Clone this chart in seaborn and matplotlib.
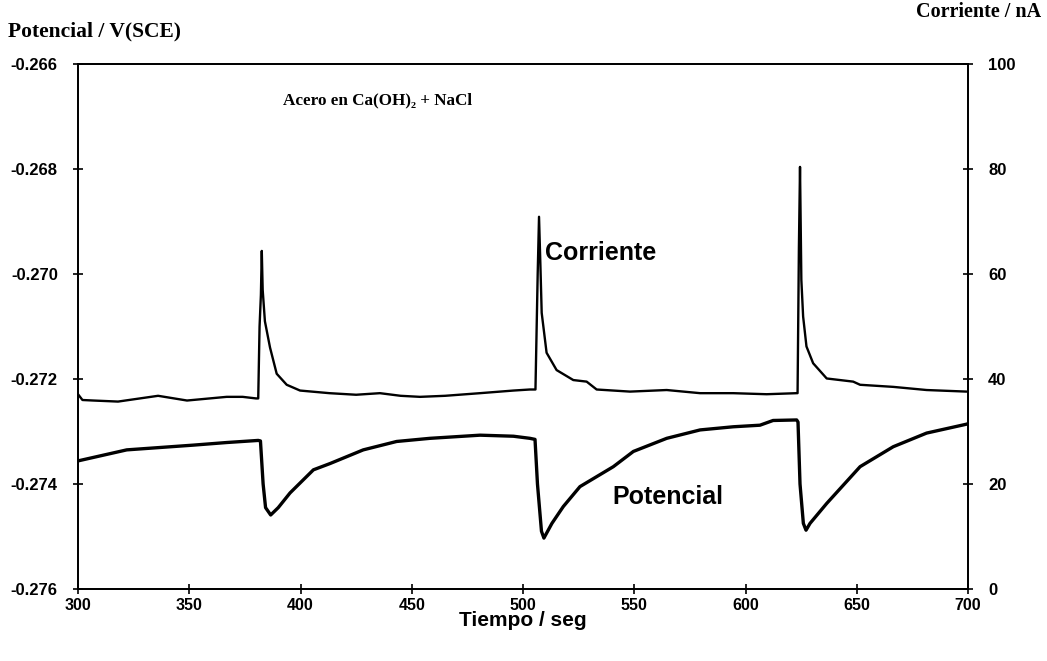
import matplotlib
matplotlib.use("Agg")
import matplotlib.pyplot as plt
import seaborn as sns
import numpy as np
from matplotlib.ticker import FixedLocator, FormatStrFormatter

# ---------------- data ----------------
potential_t = [300, 321.9, 351.7, 366.8, 381.0, 382.0, 383.2, 384.3, 386.6, 390.0, 395.3,
               405.8, 413.3, 428.2, 443.2, 458.2, 480.7, 495.7, 503.1, 505.4, 506.5,
               508.3, 509.4, 513.0, 518.1, 525.6, 540.6, 549.6, 564.6, 579.6, 594.5,
               606.5, 612.4, 623.0, 623.6, 624.5, 626.0, 627.2, 629.0, 636.5, 651.5,
               666.4, 681.4, 699.4, 700]
potential_v = [-0.27356, -0.27335, -0.27326, -0.27321, -0.27317, -0.27318, -0.27400, -0.27445,
               -0.27459, -0.27445, -0.27417, -0.27373, -0.27361, -0.27335, -0.27319, -0.27313,
               -0.27307, -0.27309, -0.27313, -0.27315, -0.27400, -0.27490, -0.27503, -0.27475,
               -0.27443, -0.27405, -0.27367, -0.27338, -0.27313, -0.27297, -0.27291, -0.27288,
               -0.27279, -0.27278, -0.27282, -0.27400, -0.27475, -0.27488, -0.27475, -0.27437,
               -0.27367, -0.27329, -0.27303, -0.27286, -0.27285]

current_t = [300, 302, 306.9, 318, 336, 349, 366.8, 374, 380, 381.0, 381.6, 382.2, 382.6,
             383.0, 384.0, 386.3, 389.3, 393.8, 399.8, 413, 425, 435.7, 445, 453.7, 465,
             480.7, 495.7, 503.1, 505.6, 506.6, 507.2, 507.8, 508.4, 510.6, 515.1, 522.6,
             528.6, 533.1, 548.1, 564.6, 579.6, 594.5, 609.5, 623.0, 623.4, 624.0, 624.5,
             625.1, 625.9, 627.4, 630.4, 636.5, 648.4, 651.5, 666.4, 681.4, 699.4]
current_i = [37.1, 36.0, 35.9, 35.7, 36.8, 35.9, 36.6, 36.6, 36.3, 36.3, 50.0, 56.0, 64.4,
             57.0, 51.0, 46.0, 41.0, 38.9, 37.8, 37.3, 37.0, 37.3, 36.8, 36.6, 36.8,
             37.3, 37.8, 38.0, 38.0, 60.0, 70.9, 62.0, 52.6, 45.0, 41.7, 39.8,
             39.5, 38.0, 37.6, 37.9, 37.3, 37.3, 37.1, 37.3, 37.3, 65.0, 80.4,
             58.9, 51.9, 46.2, 43.0, 40.1, 39.5, 38.9, 38.5, 37.9, 37.6]

x_ticks = [300, 350, 400, 450, 500, 550, 600, 650, 700]
left_ticks = [-0.276, -0.274, -0.272, -0.270, -0.268, -0.266]
right_ticks = [0, 20, 40, 60, 80, 100]

# ---------------- style ----------------
sns.set_style("ticks")
plt.rcParams['font.family'] = ['Liberation Sans', 'DejaVu Sans']
plt.rcParams['axes.unicode_minus'] = False
plt.rcParams['text.color'] = 'black'
plt.rcParams['axes.labelcolor'] = 'black'
plt.rcParams['xtick.color'] = 'black'
plt.rcParams['ytick.color'] = 'black'

fig = plt.figure(figsize=(10.47, 6.61), dpi=100)
ax = fig.add_axes([78 / 1047, 1 - 589 / 661, 890 / 1047, 525 / 661])
ax2 = ax.twinx()

sns.lineplot(x=potential_t, y=potential_v, ax=ax, color='black', linewidth=2.4,
             estimator=None, sort=False)
sns.lineplot(x=current_t, y=current_i, ax=ax2, color='black', linewidth=1.7,
             estimator=None, sort=False)

ax.set_xlim(300, 700)
ax.set_ylim(-0.276, -0.266)
ax2.set_ylim(0, 100)

ax.xaxis.set_major_locator(FixedLocator(x_ticks))
ax.yaxis.set_major_locator(FixedLocator(left_ticks))
ax.yaxis.set_major_formatter(FormatStrFormatter('%.3f'))
ax2.yaxis.set_major_locator(FixedLocator(right_ticks))

for a in (ax, ax2):
    for s in a.spines.values():
        s.set_visible(True)
        s.set_linewidth(1.3)
        s.set_color('black')

ax.tick_params(axis='x', direction='inout', length=7, width=1.2, pad=3,
               labelsize=11.5, colors='black')
ax.tick_params(axis='y', direction='inout', length=7, width=1.2, pad=11,
               labelsize=12, colors='black')
ax2.tick_params(axis='y', direction='inout', length=7, width=1.2, pad=11,
                labelsize=12, colors='black')
for lab in ax.get_xticklabels() + ax.get_yticklabels() + ax2.get_yticklabels():
    lab.set_fontweight('bold')

ax.set_xlabel('')
ax.set_ylabel('')
ax2.set_ylabel('')

serif = ['Liberation Serif', 'DejaVu Serif']
fig.text(8 / 1047, 1 - 31 / 661, 'Potencial / V(SCE)', ha='left', va='center',
         fontsize=15.5, fontweight='bold', family=serif, color='black')
fig.text(1041 / 1047, 1 - 12 / 661, 'Corriente / nA', ha='right', va='center',
         fontsize=14.5, fontweight='bold', family=serif, color='black')
fig.text(523 / 1047, 1 - 621 / 661, 'Tiempo / seg', ha='center', va='center',
         fontsize=15, fontweight='bold', color='black')

ax.text(0.230, 0.93, 'Acero en Ca(OH)₂ + NaCl', transform=ax.transAxes, ha='left',
        va='center', fontsize=12.3, fontweight='bold', family=serif, color='black')
ax.text(0.525, 0.64, 'Corriente', transform=ax.transAxes, ha='left', va='center',
        fontsize=18, fontweight='bold', color='black')
ax.text(0.600, 0.175, 'Potencial', transform=ax.transAxes, ha='left', va='center',
        fontsize=18, fontweight='bold', color='black')

fig.savefig('out.png', dpi=100)
